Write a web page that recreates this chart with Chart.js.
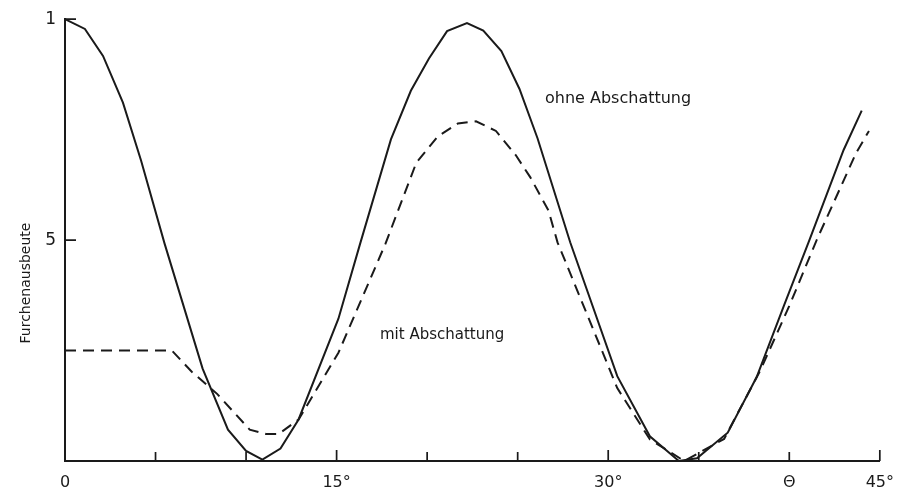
<!DOCTYPE html>
<html>
<head>
<meta charset="utf-8">
<script src="https://cdn.jsdelivr.net/npm/chart.js@4/dist/chart.umd.min.js"></script>
<style>
  html, body { margin: 0; padding: 0; background: #fff; }
  #wrap { width: 906px; height: 502px; }
</style>
</head>
<body>
<div id="wrap"><canvas id="chart" width="906" height="502"></canvas></div>
<script>
// === Data ===
// Winkel in Grad
const ohneX = [0, 1.1, 2.1, 3.2, 4.2, 5.5, 7.6, 9.0, 10.0, 10.9, 11.9, 12.9, 15.1, 16.3, 18.0, 19.1, 20.1, 21.1, 22.2, 23.1, 24.1, 25.1, 26.1, 27.9, 30.5, 32.3, 33.9, 34.9, 36.6, 38.2, 39.7, 41.1, 43.0, 44.0];
const ohneY = [1.0, 0.978, 0.917, 0.811, 0.68, 0.492, 0.209, 0.071, 0.023, 0.003, 0.028, 0.094, 0.322, 0.492, 0.728, 0.838, 0.911, 0.973, 0.991, 0.974, 0.928, 0.842, 0.73, 0.495, 0.192, 0.056, 0.0, 0.006, 0.064, 0.19, 0.351, 0.499, 0.704, 0.793];

const mitX = [0, 5.9, 7.0, 8.4, 10.2, 11.1, 11.8, 12.9, 15.1, 17.7, 19.4, 20.6, 21.7, 22.7, 23.8, 24.9, 25.7, 26.7, 27.2, 30.5, 32.3, 34.2, 36.4, 38.4, 40.0, 41.5, 43.7, 44.4];
const mitY = [0.25, 0.25, 0.202, 0.152, 0.071, 0.061, 0.061, 0.094, 0.245, 0.492, 0.675, 0.735, 0.764, 0.769, 0.747, 0.692, 0.642, 0.567, 0.495, 0.165, 0.049, 0.0, 0.05, 0.205, 0.351, 0.499, 0.698, 0.747];

const xTicks = [0, 5, 10, 15, 20, 25, 30, 35, 40, 45];
const xLabels = { 0: "0", 15: "15°", 30: "30°", 40: "Θ", 45: "45°" };
const yTicks = [0, 0.5, 1];
const yLabels = { 0.5: "5", 1: "1" };

const ink = "#1a1a1a";
const font = "'DejaVu Sans', sans-serif";

function toPoints(xs, ys) {
	return xs.map((x, i) => ({ x: x, y: ys[i] }));
}

// === Tick marks pointing into the plot + annotations ===
const extras = {
	id: "extras",
	afterDraw(chart) {
		const { ctx, scales } = chart;
		const xs = scales.x, ys = scales.y;
		const bottom = ys.getPixelForValue(0);
		const left = xs.getPixelForValue(0);

		ctx.save();
		ctx.strokeStyle = ink;
		ctx.lineWidth = 1.7;
		ctx.beginPath();
		xTicks.forEach((v) => {
			if (v === 0) return;
			const px = xs.getPixelForValue(v);
			const len = v % 15 === 0 ? 11 : 9;
			ctx.moveTo(px, bottom);
			ctx.lineTo(px, bottom - len);
		});
		[0.5, 1].forEach((v) => {
			const py = ys.getPixelForValue(v);
			ctx.moveTo(left, py);
			ctx.lineTo(left + 11, py);
		});
		ctx.stroke();

		ctx.fillStyle = ink;
		ctx.textBaseline = "middle";
		ctx.textAlign = "left";
		ctx.font = "16px " + font;
		ctx.fillText("ohne Abschattung", 545, 99);
		ctx.font = "15px " + font;
		ctx.fillText("mit Abschattung", 380, 335);

		// Achsentitel
		ctx.font = "14px " + font;
		ctx.translate(26, 283);
		ctx.rotate(-Math.PI / 2);
		ctx.textAlign = "center";
		ctx.fillText("Furchenausbeute", 0, 0);
		ctx.restore();
	},
};

new Chart(document.getElementById("chart"), {
	type: "line",
	data: {
		datasets: [
			{
				label: "ohne Abschattung",
				data: toPoints(ohneX, ohneY),
				borderColor: ink,
				borderWidth: 2,
				pointRadius: 0,
				tension: 0,
				clip: false,
			},
			{
				label: "mit Abschattung",
				data: toPoints(mitX, mitY),
				borderColor: ink,
				borderWidth: 2,
				borderDash: [11, 7],
				pointRadius: 0,
				tension: 0,
				clip: false,
			},
		],
	},
	options: {
		responsive: false,
		animation: false,
		maintainAspectRatio: false,
		layout: { padding: { top: 7, right: 23, left: 0, bottom: 0 } },
		plugins: {
			legend: { display: false },
			tooltip: { enabled: false },
		},
		scales: {
			x: {
				type: "linear",
				min: 0,
				max: 45,
				afterBuildTicks: (s) => {
					s.ticks = xTicks.map((v) => ({ value: v }));
				},
				afterFit: (s) => {
					s.height = 41;
				},
				ticks: {
					autoSkip: false,
					maxRotation: 0,
					padding: 12,
					color: ink,
					font: { family: font, size: 16 },
					callback: (v) => xLabels[v] || "",
				},
				grid: { display: false, drawTicks: false },
				border: { display: true, color: ink, width: 2 },
			},
			y: {
				type: "linear",
				min: 0,
				max: 1,
				afterBuildTicks: (s) => {
					s.ticks = yTicks.map((v) => ({ value: v }));
				},
				afterFit: (s) => {
					s.width = 65;
				},
				ticks: {
					autoSkip: false,
					padding: 9,
					color: ink,
					font: { family: font, size: 17 },
					callback: (v) => yLabels[v] || "",
				},
				grid: { display: false, drawTicks: false },
				border: { display: true, color: ink, width: 2 },
			},
		},
	},
	plugins: [extras],
});
</script>
</body>
</html>
